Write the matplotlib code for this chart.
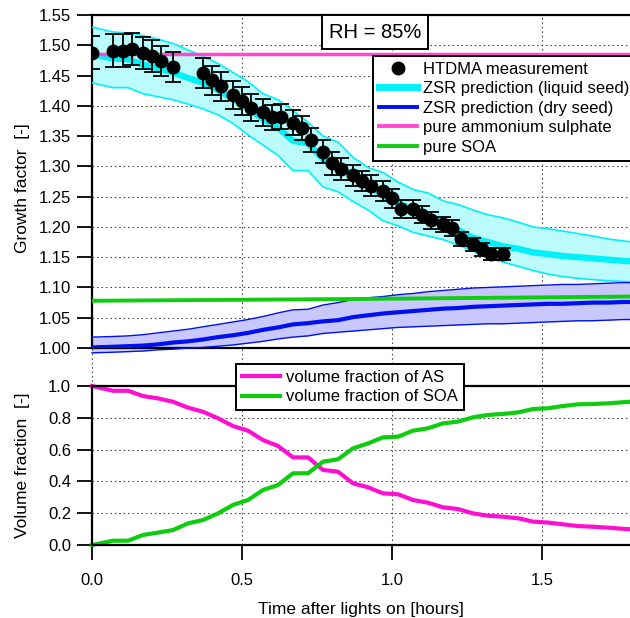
# Growth factor and volume fraction vs time after lights on (RH = 85%)
import numpy as np
import matplotlib.pyplot as plt
from matplotlib.lines import Line2D
from matplotlib.ticker import FormatStrFormatter

plt.rcParams['font.family'] = ['Liberation Sans', 'DejaVu Sans']

######## Data ################################
# HTDMA measurements
t_meas = [0.0, 0.071, 0.102, 0.132, 0.171, 0.201, 0.231, 0.271, 0.371, 0.401,
          0.430, 0.471, 0.501, 0.531, 0.571, 0.601, 0.631, 0.671, 0.701, 0.731,
          0.771, 0.801, 0.831, 0.871, 0.901, 0.931, 0.971, 1.001, 1.031, 1.071,
          1.101, 1.131, 1.171, 1.201, 1.231, 1.271, 1.301, 1.331, 1.371]
gf_meas = [1.488, 1.491, 1.491, 1.494, 1.487, 1.482, 1.474, 1.464, 1.454, 1.442,
           1.432, 1.418, 1.408, 1.397, 1.389, 1.381, 1.382, 1.372, 1.363, 1.343,
           1.324, 1.305, 1.295, 1.285, 1.276, 1.268, 1.259, 1.247, 1.230, 1.230,
           1.220, 1.211, 1.204, 1.198, 1.180, 1.171, 1.163, 1.155, 1.155]
gf_err = [0.027, 0.027, 0.027, 0.027, 0.026, 0.026, 0.025, 0.025, 0.025, 0.024,
          0.024, 0.023, 0.023, 0.022, 0.022, 0.021, 0.021, 0.021, 0.020, 0.020,
          0.019, 0.019, 0.018, 0.018, 0.017, 0.017, 0.017, 0.016, 0.015, 0.015,
          0.014, 0.014, 0.013, 0.013, 0.012, 0.011, 0.011, 0.010, 0.010]

# model time grid
t_mod = [0.0, 0.07, 0.12, 0.17, 0.22, 0.27, 0.32, 0.37, 0.42, 0.47, 0.52, 0.57,
         0.62, 0.67, 0.72, 0.77, 0.82, 0.87, 0.92, 0.97, 1.02, 1.07, 1.12, 1.17,
         1.22, 1.27, 1.32, 1.37, 1.42, 1.47, 1.52, 1.57, 1.62, 1.67, 1.72, 1.77, 1.80]

# ZSR prediction (liquid seed)
liq_mid = [1.485, 1.478, 1.477, 1.468, 1.462, 1.455, 1.446, 1.438, 1.426, 1.412,
           1.396, 1.378, 1.364, 1.342, 1.338, 1.312, 1.302, 1.284, 1.268, 1.252,
           1.240, 1.228, 1.218, 1.205, 1.195, 1.182, 1.175, 1.168, 1.164, 1.158,
           1.155, 1.152, 1.150, 1.148, 1.146, 1.144, 1.143]
liq_hi = [1.530, 1.522, 1.520, 1.516, 1.510, 1.503, 1.492, 1.482, 1.470, 1.455,
          1.440, 1.420, 1.410, 1.392, 1.373, 1.350, 1.340, 1.315, 1.298, 1.290,
          1.274, 1.262, 1.256, 1.243, 1.237, 1.228, 1.220, 1.215, 1.208, 1.200,
          1.197, 1.193, 1.189, 1.185, 1.180, 1.177, 1.175]
liq_lo = [1.438, 1.430, 1.430, 1.420, 1.415, 1.410, 1.403, 1.395, 1.385, 1.371,
          1.352, 1.335, 1.318, 1.293, 1.293, 1.266, 1.258, 1.242, 1.228, 1.210,
          1.202, 1.191, 1.185, 1.179, 1.170, 1.160, 1.148, 1.142, 1.135, 1.128,
          1.122, 1.118, 1.115, 1.113, 1.111, 1.110, 1.109]

# ZSR prediction (dry seed)
dry_mid = [1.001, 1.002, 1.003, 1.004, 1.006, 1.009, 1.011, 1.014, 1.018, 1.021,
           1.025, 1.030, 1.034, 1.039, 1.041, 1.044, 1.046, 1.051, 1.054, 1.057,
           1.059, 1.061, 1.063, 1.065, 1.066, 1.068, 1.069, 1.070, 1.071, 1.072,
           1.073, 1.073, 1.074, 1.075, 1.075, 1.076, 1.076]
dry_hi = [1.018, 1.019, 1.020, 1.022, 1.025, 1.028, 1.031, 1.035, 1.039, 1.043,
          1.047, 1.052, 1.058, 1.063, 1.064, 1.071, 1.075, 1.080, 1.083, 1.085,
          1.088, 1.090, 1.093, 1.095, 1.097, 1.099, 1.100, 1.101, 1.102, 1.103,
          1.104, 1.105, 1.105, 1.106, 1.107, 1.108, 1.108]
dry_lo = [0.992, 0.993, 0.994, 0.995, 0.997, 0.998, 1.000, 1.001, 1.003, 1.005,
          1.008, 1.011, 1.015, 1.018, 1.020, 1.024, 1.026, 1.028, 1.030, 1.032,
          1.034, 1.035, 1.036, 1.037, 1.038, 1.039, 1.040, 1.040, 1.041, 1.042,
          1.043, 1.044, 1.045, 1.045, 1.046, 1.047, 1.047]

# pure components
t_pure = [0.0, 0.9, 1.8]
gf_as = [1.486, 1.486, 1.486]
gf_soa = [1.078, 1.081, 1.085]

# volume fractions
vf_as = [1.000, 0.970, 0.970, 0.937, 0.922, 0.901, 0.864, 0.838, 0.797, 0.748,
         0.719, 0.660, 0.623, 0.551, 0.551, 0.472, 0.461, 0.388, 0.363, 0.325,
         0.319, 0.283, 0.266, 0.237, 0.226, 0.199, 0.184, 0.178, 0.168, 0.147,
         0.141, 0.130, 0.119, 0.115, 0.109, 0.102, 0.098]
vf_soa = [0.000, 0.027, 0.027, 0.063, 0.078, 0.094, 0.136, 0.157, 0.199, 0.252,
          0.283, 0.346, 0.377, 0.451, 0.451, 0.524, 0.539, 0.608, 0.639, 0.677,
          0.681, 0.719, 0.734, 0.765, 0.776, 0.803, 0.818, 0.824, 0.834, 0.855,
          0.860, 0.874, 0.885, 0.887, 0.891, 0.898, 0.902]

######## Style ##########
W, H = 630, 618
cyan, cyan_fill = '#00f0f8', '#bcfbfc'
blue, blue_fill = '#0010f0', '#c8c8fc'
pink, magenta, green = '#ff48d0', '#ff10d0', '#10cc10'
grid_kw = dict(color='0.3', lw=0.8, dashes=(1.5, 2.5))
xmax = 538 / 300

fig = plt.figure(figsize=(W / 100, H / 100), dpi=100)
ax1 = fig.add_axes([92 / W, 1 - 348 / H, 538 / W, 333 / H])
ax2 = fig.add_axes([92 / W, 1 - 545 / H, 538 / W, 159 / H])

######## Top: growth factor ##########
ax1.fill_between(t_mod, liq_lo, liq_hi, color=cyan_fill, lw=0, zorder=2)
ax1.plot(t_mod, liq_hi, color=cyan, lw=1.2, zorder=3)
ax1.plot(t_mod, liq_lo, color=cyan, lw=1.2, zorder=3)
ax1.plot(t_mod, liq_mid, color=cyan, lw=4.5, zorder=3)

ax1.fill_between(t_mod, dry_lo, dry_hi, color=blue_fill, lw=0, zorder=2, clip_on=False)
ax1.plot(t_mod, dry_hi, color=blue, lw=1.0, zorder=3, clip_on=False)
ax1.plot(t_mod, dry_lo, color=blue, lw=1.0, zorder=3, clip_on=False)
ax1.plot(t_mod, dry_mid, color=blue, lw=3, zorder=3)

ax1.plot(t_pure, gf_as, color=pink, lw=2.5, zorder=4)
ax1.plot(t_pure, gf_soa, color=green, lw=2.8, zorder=4)

ax1.errorbar(t_meas, gf_meas, yerr=gf_err, fmt='o', color='k', ms=9,
             capsize=5.5, elinewidth=1.3, capthick=1.3, zorder=6)

ax1.set_xlim(0, xmax)
ax1.set_ylim(1.0, 1.55)
ax1.set_yticks(np.arange(1.0, 1.5501, 0.05))
ax1.yaxis.set_major_formatter(FormatStrFormatter('%.2f'))
ax1.set_xticks([0.0, 0.5, 1.0, 1.5])
ax1.tick_params(axis='x', length=0, labelbottom=False)
ax1.tick_params(axis='y', direction='out', length=11, width=1.3, pad=4, labelsize=12)
ax1.grid(True, **grid_kw)
ax1.set_axisbelow(True)
ax1.spines['right'].set_visible(False)
for s in ['left', 'top', 'bottom']:
    ax1.spines[s].set_linewidth(1.6)
ax1.set_ylabel('Growth factor  [-]', fontsize=12.5)
ax1.yaxis.set_label_coords(-0.115, 0.48)

# dotted grid lines running through the gap between panels
gap = 38 / 333
for xv in [0.0, 0.5, 1.0, 1.5]:
    ax1.axvline(xv, ymin=-gap, ymax=0, clip_on=False, **grid_kw)

handles = [Line2D([], [], marker='o', ls='none', color='k', ms=9),
           Line2D([], [], color=cyan, lw=5),
           Line2D([], [], color=blue, lw=2.8),
           Line2D([], [], color=pink, lw=2.8),
           Line2D([], [], color=green, lw=2.8)]
labels = ['HTDMA measurement', 'ZSR prediction (liquid seed)', 'ZSR prediction (dry seed)',
          'pure ammonium sulphate', 'pure SOA']
leg1 = ax1.legend(handles, labels, loc='upper left', bbox_to_anchor=(373 / W, 1 - 56 / H),
                  bbox_transform=fig.transFigure, fancybox=False, framealpha=1,
                  edgecolor='k', borderaxespad=0, fontsize=12, handlelength=2.3,
                  labelspacing=0.27, borderpad=0.35, handletextpad=0.35)
leg1.get_frame().set_linewidth(1.4)
leg1.set_zorder(10)

fig.text(375 / W, 1 - 32 / H, 'RH = 85%', ha='center', va='center', fontsize=14.5,
         bbox=dict(boxstyle='square,pad=0.35', fc='white', ec='k', lw=1.4))

######## Bottom: volume fraction ##########
ax2.plot(t_mod, vf_as, color=magenta, lw=3, label='volume fraction of AS', clip_on=False)
ax2.plot(t_mod, vf_soa, color=green, lw=3, label='volume fraction of SOA', clip_on=False)
ax2.set_xlim(0, xmax)
ax2.set_ylim(0, 1.0)
ax2.set_yticks(np.arange(0, 1.001, 0.2))
ax2.yaxis.set_major_formatter(FormatStrFormatter('%.1f'))
ax2.set_xticks([0.0, 0.5, 1.0, 1.5])
ax2.xaxis.set_major_formatter(FormatStrFormatter('%.1f'))
ax2.tick_params(axis='both', direction='out', length=11, width=1.3, labelsize=12)
ax2.tick_params(axis='x', pad=9)
ax2.tick_params(axis='y', pad=4)
ax2.grid(True, **grid_kw)
ax2.set_axisbelow(True)
ax2.spines['right'].set_visible(False)
for s in ['left', 'top', 'bottom']:
    ax2.spines[s].set_linewidth(1.6)
ax2.set_ylabel('Volume fraction  [-]', fontsize=12.5)
ax2.yaxis.set_label_coords(-0.115, 0.5)
ax2.set_xlabel('Time after lights on [hours]', fontsize=12.5)
ax2.xaxis.set_label_coords(0.5, -0.36)

leg2 = ax2.legend(loc='upper left', bbox_to_anchor=(236 / W, 1 - 364 / H),
                  bbox_transform=fig.transFigure, fancybox=False, framealpha=1,
                  edgecolor='k', borderaxespad=0, fontsize=12, handlelength=2.3,
                  labelspacing=0.27, borderpad=0.35, handletextpad=0.35)
leg2.get_frame().set_linewidth(1.4)

plt.savefig('out.png', dpi=100)
